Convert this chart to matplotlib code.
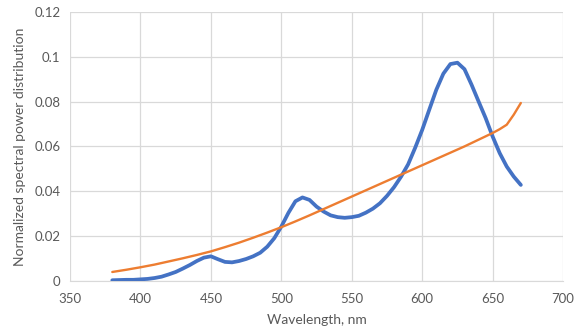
import numpy as np
import matplotlib
matplotlib.use("Agg")
import matplotlib.pyplot as plt

plt.rcParams['font.family'] = ['Lato', 'DejaVu Sans']

# measured spectrum (blue), every 5 nm
wl_meas = np.arange(380, 675, 5)
spd_meas = [0.0002, 0.0003, 0.0004, 0.0004, 0.0006, 0.0008, 0.0012, 0.0018, 0.0028, 0.0039,
            0.0054, 0.0070, 0.0088, 0.0103, 0.0109, 0.0096, 0.0084, 0.0082, 0.0088, 0.0097,
            0.0109, 0.0125, 0.0152, 0.0190, 0.0242, 0.0303, 0.0355, 0.0372, 0.0361, 0.0331,
            0.0309, 0.0292, 0.0284, 0.0281, 0.0284, 0.0290, 0.0304, 0.0322, 0.0346, 0.0379,
            0.0418, 0.0465, 0.0520, 0.0594, 0.0674, 0.0764, 0.0853, 0.0925, 0.0968, 0.0974,
            0.0945, 0.0876, 0.0801, 0.0727, 0.0644, 0.0570, 0.0510, 0.0465, 0.0428]

# reference curve (orange)
wl_ref = [380, 390, 400, 410, 420, 430, 440, 450, 460, 470, 480, 490, 500, 510, 520,
          530, 540, 550, 560, 570, 580, 590, 600, 610, 620, 630, 640, 650, 655, 660, 665, 670]
spd_ref = [0.0039, 0.0049, 0.0060, 0.0072, 0.0086, 0.0100, 0.0115, 0.0131, 0.0150, 0.0170,
           0.0192, 0.0215, 0.0239, 0.0265, 0.0292, 0.0320, 0.0348, 0.0376, 0.0404, 0.0432,
           0.0460, 0.0488, 0.0516, 0.0544, 0.0572, 0.0600, 0.0630, 0.0660, 0.0677, 0.0697,
           0.0742, 0.0794]

fig = plt.figure(figsize=(5.74, 3.32), dpi=100)
ax = fig.add_axes([0.122, 0.1545, 0.859, 0.809])

ax.plot(wl_meas, spd_meas, color='#4472C4', lw=2.7, solid_capstyle='round',
        solid_joinstyle='round', zorder=3)
ax.plot(wl_ref, spd_ref, color='#ED7D31', lw=1.7, solid_capstyle='round',
        solid_joinstyle='round', zorder=4)

ax.set_xlim(350, 700)
ax.set_ylim(0, 0.12)
ax.set_xticks(range(350, 701, 50))
ax.set_yticks([0, 0.02, 0.04, 0.06, 0.08, 0.1, 0.12])
ax.set_yticklabels(['0', '0.02', '0.04', '0.06', '0.08', '0.1', '0.12'])
ax.grid(True, color='#D9D9D9', lw=0.9)
ax.set_axisbelow(True)
for s in ['top', 'right', 'left']:
    ax.spines[s].set_visible(False)
ax.spines['bottom'].set_color('#D9D9D9')
ax.tick_params(length=0, colors='#595959', labelsize=9.5, pad=7)
ax.tick_params(axis='x', pad=9)

ax.set_xlabel('Wavelength, nm', color='#595959', fontsize=10, labelpad=6)
ax.set_ylabel('Normalized spectral power distribution', color='#595959', fontsize=10, labelpad=6)

fig.savefig('out.png', dpi=100)
